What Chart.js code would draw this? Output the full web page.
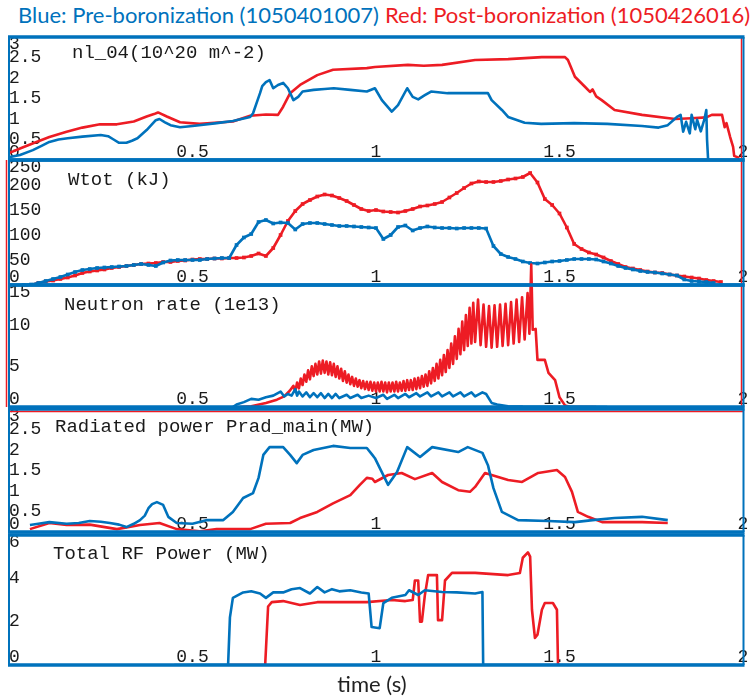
<!DOCTYPE html>
<html lang="en">
<head>
<meta charset="UTF-8">
<title>Boronization comparison</title>
<script src="https://cdn.jsdelivr.net/npm/chart.js"></script>
<style>
  body { margin: 0; background: #fff; }
  #wrap { position: relative; width: 750px; height: 696px; overflow: hidden; font-family: Lato, 'Noto Sans', sans-serif; }
  #wrap canvas { position: absolute; left: 0; }
  .head { position: absolute; top: 1px; font-size: 22px; white-space: nowrap; }
  #pre { left: 18px; color: #0072bc; }
  #post { left: 385px; color: #ed1c24; }
  #xlabel { position: absolute; top: 670px; left: 0; width: 744px; text-align: center; font-size: 22px; color: #222; }
</style>
</head>
<body>
<div id="wrap">
  <div class="head" id="pre">Blue: Pre-boronization (1050401007)</div>
  <div class="head" id="post">Red: Post-boronization (1050426016)</div>
  <canvas id="p1"></canvas>
  <canvas id="p2"></canvas>
  <canvas id="p3"></canvas>
  <canvas id="p4"></canvas>
  <canvas id="p5"></canvas>
  <div id="xlabel">time (s)</div>
</div>

<script>
// [time (s), value] pairs, blue = 1050401007, red = 1050426016
const nlBlue = [[0,0.07],[0.03,0.12],[0.065,0.24],[0.09,0.35],[0.11,0.44],[0.135,0.5],[0.16,0.53],[0.2,0.57],[0.25,0.61],[0.27,0.58],[0.285,0.5],[0.3,0.42],[0.32,0.42],[0.335,0.47],[0.35,0.53],[0.375,0.73],[0.4,0.97],[0.41,1.0],[0.425,0.92],[0.44,0.85],[0.466,0.8],[0.5,0.83],[0.53,0.86],[0.566,0.9],[0.61,0.95],[0.657,1.05],[0.665,1.14],[0.675,1.4],[0.684,1.63],[0.69,1.8],[0.7,1.9],[0.71,1.95],[0.72,1.75],[0.733,1.83],[0.747,1.88],[0.76,1.75],[0.775,1.46],[0.788,1.54],[0.8,1.67],[0.83,1.71],[0.86,1.73],[0.885,1.75],[0.93,1.71],[0.975,1.67],[0.997,1.75],[1.016,1.46],[1.043,1.18],[1.06,1.34],[1.085,1.75],[1.1,1.54],[1.115,1.48],[1.133,1.58],[1.15,1.67],[1.195,1.63],[1.25,1.63],[1.305,1.63],[1.315,1.46],[1.343,1.22],[1.36,1.05],[1.405,0.91],[1.45,0.88],[1.54,0.9],[1.63,0.88],[1.725,0.83],[1.77,0.79],[1.795,0.85],[1.82,1.05],[1.83,1.1],[1.837,0.69],[1.845,0.93],[1.855,0.65],[1.86,1.1],[1.87,0.75],[1.875,0.98],[1.885,0.7],[1.895,1.0],[1.9,1.22],[1.902,0.5],[1.905,0]];
const nlRed = [[0,0.17],[0.03,0.28],[0.066,0.41],[0.11,0.56],[0.157,0.69],[0.2,0.79],[0.248,0.87],[0.294,0.87],[0.34,0.94],[0.375,1.06],[0.395,1.12],[0.406,1.16],[0.43,1.06],[0.466,0.92],[0.52,0.88],[0.61,0.94],[0.657,1.08],[0.7,1.11],[0.733,1.1],[0.747,1.3],[0.766,1.63],[0.793,1.83],[0.84,2.07],[0.883,2.2],[0.975,2.24],[0.997,2.27],[1.087,2.32],[1.13,2.3],[1.18,2.32],[1.27,2.44],[1.36,2.46],[1.452,2.51],[1.515,2.51],[1.523,2.44],[1.542,2.03],[1.57,1.78],[1.583,1.66],[1.59,1.72],[1.6,1.55],[1.615,1.46],[1.65,1.22],[1.725,1.1],[1.815,1.0],[1.86,1.02],[1.9,1.04],[1.915,1.1],[1.943,1.1],[1.95,0.8],[1.955,0.9],[1.965,0.56],[1.973,0.32],[1.976,0.1],[1.99,0.05]];

const wBlue = [[0.04,0],[0.06,1],[0.08,4],[0.1,8],[0.12,12],[0.14,16],[0.16,21],[0.18,26],[0.2,30],[0.22,32],[0.24,34],[0.26,35],[0.28,36],[0.3,37],[0.32,38],[0.34,40],[0.36,42],[0.38,40],[0.4,38],[0.42,45],[0.44,49],[0.46,50],[0.48,50],[0.5,50],[0.52,50],[0.54,52],[0.56,53],[0.58,54],[0.6,54],[0.62,80],[0.64,95],[0.66,102],[0.68,126],[0.7,130],[0.72,123],[0.74,125],[0.76,124],[0.78,111],[0.8,122],[0.82,124],[0.84,124],[0.86,122],[0.88,120],[0.9,118],[0.92,118],[0.94,117],[0.96,116],[0.98,115],[1.0,114],[1.02,92],[1.04,100],[1.06,116],[1.08,119],[1.1,109],[1.12,114],[1.14,117],[1.16,115],[1.18,114],[1.2,114],[1.22,113],[1.24,114],[1.26,114],[1.28,114],[1.3,113],[1.32,78],[1.34,62],[1.36,56],[1.38,52],[1.4,47],[1.42,44],[1.44,43],[1.46,45],[1.48,47],[1.5,48],[1.52,50],[1.54,52],[1.56,52],[1.58,52],[1.6,51],[1.62,47],[1.64,43],[1.66,38],[1.68,34],[1.7,31],[1.72,28],[1.74,26],[1.76,25],[1.78,23],[1.8,21],[1.82,19],[1.84,11],[1.86,8],[1.88,7],[1.9,6],[1.92,4]];
const wRed = [[0.06,0],[0.08,4],[0.1,7],[0.12,9],[0.14,12],[0.16,15],[0.18,19],[0.2,24],[0.22,27],[0.24,29],[0.26,31],[0.28,34],[0.3,36],[0.32,38],[0.34,40],[0.36,42],[0.38,43],[0.4,44],[0.42,46],[0.44,46],[0.46,48],[0.48,49],[0.5,51],[0.52,52],[0.54,52],[0.56,53],[0.58,53],[0.6,54],[0.62,54],[0.64,55],[0.66,58],[0.68,63],[0.7,58],[0.72,74],[0.74,100],[0.76,128],[0.78,148],[0.8,162],[0.82,170],[0.84,177],[0.86,181],[0.88,179],[0.9,174],[0.92,168],[0.94,160],[0.96,152],[0.98,148],[1.0,150],[1.02,147],[1.04,146],[1.06,145],[1.08,148],[1.1,152],[1.12,157],[1.14,159],[1.16,162],[1.18,166],[1.2,175],[1.22,184],[1.24,194],[1.26,203],[1.28,207],[1.3,206],[1.32,206],[1.34,208],[1.36,211],[1.38,213],[1.4,216],[1.42,224],[1.44,205],[1.46,172],[1.48,160],[1.5,143],[1.52,115],[1.54,82],[1.56,72],[1.58,65],[1.6,61],[1.62,55],[1.64,48],[1.66,42],[1.68,36],[1.7,33],[1.72,30],[1.74,27],[1.76,25],[1.78,24],[1.8,21],[1.82,19],[1.84,17],[1.86,15],[1.88,13],[1.9,10],[1.92,8],[1.94,6]];

const neutBlue = [[0.61,0],[0.62,0.3],[0.64,0.6],[0.66,1.0],[0.68,0.9],[0.7,1.2],[0.72,1.4],[0.74,1.9],[0.75,1.3],[0.76,1.6],[0.77,1.4],[0.78,2.2],[0.785,1.4],[0.79,1.9],[0.8,1.3],[0.81,1.8],[0.82,1.2],[0.83,1.7],[0.84,1.2],[0.85,1.7],[0.86,1.1],[0.87,1.6],[0.88,1.1],[0.89,1.6],[0.9,1.1],[0.92,1.5],[0.93,1.1],[0.95,1.5],[0.96,1.1],[0.98,1.4],[1.0,1.1],[1.02,1.5],[1.03,1.0],[1.05,1.5],[1.06,1.1],[1.08,1.6],[1.09,1.2],[1.11,1.7],[1.12,1.3],[1.14,1.8],[1.15,1.3],[1.17,1.8],[1.18,1.3],[1.2,1.8],[1.21,1.3],[1.23,1.8],[1.24,1.3],[1.26,1.8],[1.27,1.3],[1.29,1.8],[1.3,1.6],[1.315,0.5],[1.33,0.3],[1.36,0.1],[1.4,0.05],[1.63,0]];
const neutRed = [[0.63,0],[0.66,0.1],[0.7,0.5],[0.73,0.9],[0.75,1.3],[0.765,2.0],[0.775,2.6],[0.78,1.9],[0.785,3.0],[0.79,2.3],[0.795,3.5],[0.8,2.7],[0.805,4.0],[0.81,3.1],[0.815,4.5],[0.82,3.4],[0.825,5.0],[0.83,3.8],[0.835,5.3],[0.84,4.0],[0.845,5.6],[0.85,4.1],[0.855,5.7],[0.86,4.2],[0.865,5.6],[0.87,4.0],[0.875,5.5],[0.88,3.9],[0.885,5.3],[0.89,3.7],[0.895,5.0],[0.9,3.5],[0.905,4.7],[0.91,3.2],[0.915,4.4],[0.92,3.0],[0.925,4.0],[0.93,2.8],[0.935,3.7],[0.94,2.6],[0.945,3.5],[0.95,2.5],[0.955,3.3],[0.96,2.3],[0.965,3.2],[0.97,2.2],[0.975,3.1],[0.98,2.1],[0.985,3.1],[0.99,2.0],[0.995,3.0],[1.0,1.9],[1.005,3.0],[1.01,1.9],[1.015,3.1],[1.02,1.9],[1.025,3.0],[1.03,1.8],[1.035,3.0],[1.04,1.9],[1.045,3.0],[1.05,1.9],[1.055,3.1],[1.06,1.9],[1.065,3.0],[1.07,2.0],[1.075,3.2],[1.08,2.0],[1.085,3.3],[1.09,2.1],[1.095,3.3],[1.1,2.1],[1.105,3.5],[1.11,2.2],[1.115,3.6],[1.12,2.3],[1.125,3.8],[1.13,2.5],[1.135,4.0],[1.14,2.6],[1.145,4.4],[1.15,2.9],[1.155,4.8],[1.16,3.2],[1.165,5.3],[1.17,3.5],[1.175,5.8],[1.18,3.9],[1.185,6.4],[1.19,4.3],[1.195,7.0],[1.2,4.8],[1.205,7.8],[1.21,5.3],[1.215,8.7],[1.22,5.9],[1.225,9.6],[1.23,6.5],[1.235,10.5],[1.24,7.0],[1.245,11.3],[1.25,7.5],[1.255,12.2],[1.26,7.8],[1.265,12.8],[1.27,8.0],[1.278,13.2],[1.285,7.6],[1.293,12.6],[1.3,7.4],[1.308,12.4],[1.315,7.3],[1.323,12.5],[1.33,7.4],[1.338,12.6],[1.345,7.5],[1.353,12.7],[1.36,7.6],[1.368,12.9],[1.375,7.8],[1.383,13.2],[1.39,8.0],[1.398,13.5],[1.405,8.3],[1.413,14.0],[1.418,9.0],[1.423,17.5],[1.427,9.5],[1.435,9.6],[1.44,5.8],[1.46,5.8],[1.47,4.2],[1.488,3.3],[1.5,1.2],[1.515,0.2],[1.53,0],[1.6,0]];

const pradBlue = [[0.057,0.17],[0.08,0.2],[0.11,0.24],[0.157,0.2],[0.19,0.22],[0.22,0.27],[0.25,0.25],[0.275,0.22],[0.3,0.18],[0.32,0.12],[0.34,0.2],[0.357,0.29],[0.37,0.4],[0.38,0.58],[0.39,0.68],[0.403,0.73],[0.42,0.66],[0.434,0.37],[0.457,0.22],[0.5,0.2],[0.54,0.29],[0.584,0.29],[0.61,0.49],[0.638,0.83],[0.665,0.95],[0.68,1.32],[0.693,1.88],[0.71,2.07],[0.747,2.07],[0.766,1.88],[0.784,1.68],[0.8,1.88],[0.83,2.0],[0.883,2.1],[0.93,2.05],[0.975,2.05],[0.99,1.88],[0.997,1.8],[1.033,1.15],[1.057,1.46],[1.085,2.07],[1.12,1.83],[1.153,2.07],[1.224,1.95],[1.25,2.07],[1.29,1.93],[1.305,1.63],[1.32,1.07],[1.343,0.49],[1.387,0.29],[1.469,0.27],[1.542,0.24],[1.59,0.29],[1.65,0.34],[1.725,0.37],[1.795,0.29]];
const pradRed = [[0.057,0.07],[0.11,0.22],[0.157,0.17],[0.22,0.18],[0.294,0.07],[0.357,0.17],[0.41,0.22],[0.457,0.07],[0.52,0.02],[0.566,0.07],[0.657,0.07],[0.7,0.2],[0.766,0.22],[0.793,0.34],[0.84,0.49],[0.883,0.7],[0.93,0.9],[0.956,1.15],[0.975,1.32],[0.99,1.3],[0.997,1.22],[1.033,1.39],[1.07,1.44],[1.106,1.29],[1.153,1.44],[1.18,1.22],[1.224,1.02],[1.256,0.98],[1.27,1.1],[1.297,1.44],[1.315,1.39],[1.36,1.27],[1.398,1.22],[1.442,1.44],[1.493,1.51],[1.515,1.34],[1.534,0.98],[1.55,0.49],[1.578,0.37],[1.616,0.24],[1.725,0.24],[1.795,0.22]];

const rfBlue = [[0.45,0],[0.597,0],[0.602,2.2],[0.61,3.1],[0.638,3.35],[0.66,3.4],[0.684,3.3],[0.7,3.1],[0.72,3.35],[0.747,3.35],[0.77,3.5],[0.793,3.55],[0.82,3.3],[0.84,3.6],[0.86,3.35],[0.88,3.5],[0.9,3.4],[0.93,3.45],[0.96,3.35],[0.98,3.3],[0.988,1.75],[1.01,1.7],[1.02,2.86],[1.043,3.1],[1.08,3.23],[1.09,3.45],[1.115,3.23],[1.133,3.45],[1.18,3.37],[1.22,3.35],[1.27,3.3],[1.29,3.37],[1.292,0],[1.98,0]];
const rfRed = [[0.6,0],[0.698,0],[0.706,2.7],[0.716,2.9],[0.747,2.95],[0.793,2.77],[0.84,2.9],[0.883,2.9],[0.975,2.9],[1.043,3.0],[1.08,2.95],[1.1,3.0],[1.106,3.9],[1.115,3.9],[1.12,2.0],[1.125,2.0],[1.133,3.2],[1.142,4.15],[1.166,4.15],[1.169,2.07],[1.18,2.07],[1.188,3.9],[1.207,4.25],[1.27,4.25],[1.36,4.15],[1.392,4.25],[1.4,4.95],[1.414,5.2],[1.42,5.0],[1.425,2.55],[1.433,1.25],[1.44,1.4],[1.452,2.55],[1.46,2.86],[1.482,2.86],[1.493,2.55],[1.496,0]];

const BLUE = '#0072bc', RED = '#ed1c24';
const tickFont = { family: '"Liberation Mono", monospace', size: 18, lineHeight: 0.85 };

// one stacked panel per signal; top/bottom are the frame lines on the page
const panels = [
  { id: 'p1', name: 'nl_04(10^20 m^-2)', top: 37, bottom: 160, yMax: 3, yStep: 0.5, blue: nlBlue, red: nlRed, nameAt: [63, 16], redEdges: ['right'] },
  { id: 'p2', name: 'Wtot (kJ)', top: 160, bottom: 285, yMax: 250, yStep: 50, blue: wBlue, red: wRed, nameAt: [59, 20], redEdges: ['left', 'right'], markers: true },
  { id: 'p3', name: 'Neutron rate (1e13)', top: 285, bottom: 407, yMax: 15, yStep: 5, blue: neutBlue, red: neutRed, nameAt: [55, 20], redEdges: ['left', 'right'], overflow: 30 },
  { id: 'p4', name: 'Radiated power Prad_main(MW)', top: 409, bottom: 532, yMax: 3, yStep: 0.5, blue: pradBlue, red: pradRed, nameAt: [46, 18], redEdges: ['top'] },
  { id: 'p5', name: 'Total RF Power (MW)', top: 535, bottom: 665, yMax: 6, yStep: 2, blue: rfBlue, red: rfRed, nameAt: [44, 19], redEdges: [] }
];

// frame round the plot area plus the panel's signal name
const framePlugin = {
  id: 'frame',
  afterDraw(chart, args, opts) {
    const { ctx, chartArea: a } = chart;
    ctx.save();
    ctx.lineCap = 'butt';
    ctx.strokeStyle = RED;
    ctx.lineWidth = 1.5;
    ctx.beginPath();
    if (opts.redEdges.includes('left')) { ctx.moveTo(a.left - 2.5, a.top); ctx.lineTo(a.left - 2.5, a.bottom); }
    if (opts.redEdges.includes('right')) { ctx.moveTo(a.right - 1.5, a.top); ctx.lineTo(a.right - 1.5, a.bottom); }
    if (opts.redEdges.includes('top')) { ctx.moveTo(a.left, a.top + 2.5); ctx.lineTo(a.right, a.top + 2.5); }
    ctx.stroke();

    ctx.strokeStyle = BLUE;
    ctx.lineWidth = 2;
    ctx.beginPath();
    ctx.moveTo(a.left, a.top); ctx.lineTo(a.left, a.bottom);
    ctx.moveTo(a.right + 0.5, a.top); ctx.lineTo(a.right + 0.5, a.bottom);
    ctx.stroke();
    ctx.lineWidth = 3.5;
    ctx.beginPath();
    ctx.moveTo(a.left - 1, a.top); ctx.lineTo(a.right + 1.5, a.top);
    ctx.moveTo(a.left - 1, a.bottom); ctx.lineTo(a.right + 1.5, a.bottom);
    ctx.stroke();

    ctx.fillStyle = '#1a1a1a';
    ctx.font = '19px "Liberation Mono", monospace';
    ctx.textBaseline = 'middle';
    ctx.fillText(opts.name, a.left + opts.nameAt[0], a.top + opts.nameAt[1]);
    ctx.restore();
  }
};

function toXY(pairs) {
  return pairs.map(([x, y]) => ({ x, y }));
}

// end labels are nudged inward (two-line label) so they stay inside the frame
function yTickLabel(value, index, ticks) {
  const txt = String(Math.round(value * 100) / 100);
  if (index === 0) return [txt, ''];
  if (index === ticks.length - 1) return ['', txt];
  return txt;
}

function lineSet(pairs, color, p, extra) {
  return Object.assign({
    data: toXY(pairs),
    borderColor: color,
    backgroundColor: color,
    borderWidth: 2.6,
    borderJoinStyle: 'round',
    pointRadius: p.markers ? 2.6 : 0,
    pointStyle: 'rect',
    pointBorderWidth: 0,
    pointBackgroundColor: color,
    tension: 0,
    fill: false
  }, extra || {});
}

panels.forEach(p => {
  const canvas = document.getElementById(p.id);
  const padTop = 20 + (p.overflow || 0);
  const padBottom = 20;
  canvas.width = 750;
  canvas.height = (p.bottom - p.top) + padTop + padBottom;
  canvas.style.top = (p.top - padTop) + 'px';

  const redExtra = p.overflow ? { clip: { left: 0, top: p.overflow, right: 0, bottom: 0 } } : {};

  new Chart(canvas, {
    type: 'line',
    data: {
      datasets: [
        lineSet(p.blue, BLUE, p),
        lineSet(p.red, RED, p, redExtra)
      ]
    },
    options: {
      responsive: false,
      animation: false,
      devicePixelRatio: 1,
      events: [],
      layout: { autoPadding: false, padding: { top: padTop, bottom: padBottom, left: 9, right: 7 } },
      plugins: {
        legend: { display: false },
        tooltip: { enabled: false },
        frame: { name: p.name, nameAt: p.nameAt, redEdges: p.redEdges }
      },
      scales: {
        x: {
          type: 'linear', min: 0, max: 2,
          grid: { display: false, drawTicks: false },
          border: { display: false },
          ticks: {
            stepSize: 0.5, mirror: true, padding: 0, autoSkip: false, maxRotation: 0,
            font: tickFont, color: '#1a1a1a',
            callback: v => (v === 0 ? '' : String(v))
          }
        },
        y: {
          min: 0, max: p.yMax,
          grid: { display: false, drawTicks: false },
          border: { display: false },
          ticks: {
            stepSize: p.yStep, mirror: true, padding: 0, autoSkip: false,
            font: tickFont, color: '#1a1a1a',
            callback: yTickLabel
          }
        }
      }
    },
    plugins: [framePlugin]
  });
});
</script>
</body>
</html>
